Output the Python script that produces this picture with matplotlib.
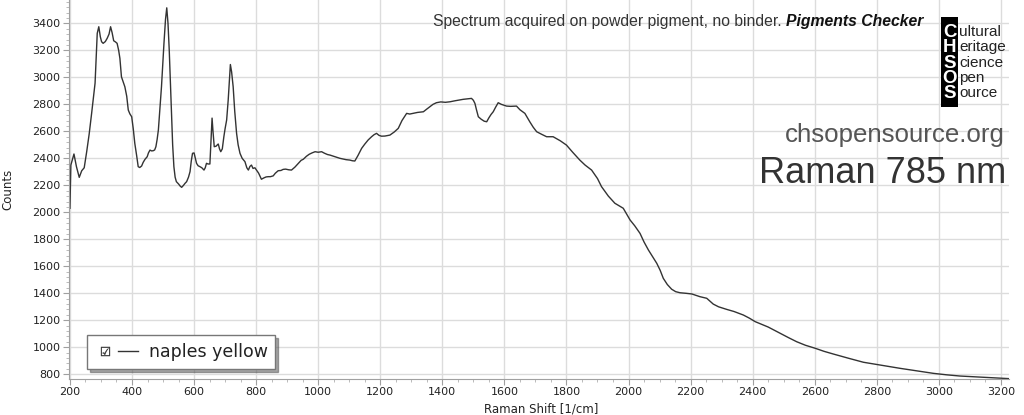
import matplotlib
matplotlib.use("Agg")
import matplotlib.pyplot as plt
from matplotlib.lines import Line2D
from matplotlib.patches import Rectangle
from matplotlib.legend_handler import HandlerTuple
from matplotlib.ticker import MultipleLocator

# %% data (Raman shift in 1/cm, counts)
shift = [200, 203, 213, 221, 230, 238, 246, 254, 262, 270, 281, 288, 293, 298, 302,
         307, 314, 320, 326, 331, 336, 341, 347, 352, 357, 361, 366, 371, 377, 383,
         388, 393, 399, 404, 409, 415, 420, 425, 431, 436, 442, 449, 453, 458, 463,
         468, 473, 477, 481, 485, 490, 495, 503, 508, 512, 516, 520, 524, 528, 531,
         535, 539, 543, 550, 555, 560, 566, 571, 576, 582, 587, 591, 595, 600, 604,
         608, 613, 619, 625, 632, 636, 640, 645, 651, 654, 658, 661, 665, 671, 675,
         678, 682, 686, 691, 696, 700, 705, 710, 714, 717, 721, 726, 731, 737, 742,
         748, 755, 764, 770, 775, 780, 785, 790, 796, 801, 808, 817, 825, 832, 839,
         846, 855, 862, 871, 880, 887, 895, 905, 914, 925, 935, 945, 952, 962, 971,
         980, 990, 1000, 1011, 1020, 1030, 1038, 1050, 1060, 1070, 1080, 1090, 1102, 1110, 1118,
         1128, 1140, 1150, 1161, 1172, 1180, 1188, 1196, 1204, 1215, 1231, 1245, 1258, 1270, 1285,
         1295, 1306, 1320, 1339, 1350, 1360, 1370, 1381, 1395, 1410, 1425, 1440, 1455, 1467, 1480,
         1494, 1500, 1505, 1510, 1516, 1525, 1535, 1543, 1550, 1557, 1564, 1572, 1580, 1590, 1600,
         1607, 1620, 1639, 1650, 1666, 1682, 1693, 1704, 1720, 1736, 1757, 1780, 1800, 1820, 1843,
         1860, 1881, 1900, 1913, 1935, 1956, 1983, 2005, 2020, 2037, 2050, 2064, 2078, 2091, 2102,
         2112, 2125, 2139, 2152, 2166, 2185, 2204, 2230, 2252, 2273, 2290, 2316, 2340, 2370, 2390,
         2408, 2450, 2488, 2515, 2542, 2570, 2601, 2630, 2660, 2710, 2757, 2820, 2875, 2930, 2982,
         3025, 3068, 3110, 3143, 3180, 3224]
counts = [2030, 2350, 2432, 2338, 2259, 2308, 2330, 2449, 2580, 2735, 2957, 3326, 3375, 3300, 3264,
          3252, 3265, 3289, 3320, 3375, 3330, 3271, 3262, 3252, 3200, 3141, 3004, 2970, 2930, 2860,
          2758, 2730, 2708, 2620, 2511, 2420, 2338, 2332, 2343, 2370, 2393, 2412, 2440, 2461, 2455,
          2456, 2462, 2486, 2540, 2610, 2770, 2930, 3252, 3430, 3515, 3400, 3202, 2950, 2708, 2500,
          2338, 2260, 2227, 2210, 2195, 2185, 2200, 2215, 2227, 2260, 2301, 2380, 2437, 2440, 2400,
          2363, 2345, 2338, 2330, 2313, 2330, 2363, 2358, 2358, 2500, 2698, 2600, 2486, 2490, 2500,
          2506, 2470, 2449, 2470, 2560, 2620, 2684, 2832, 2980, 3095, 3040, 2930, 2750, 2585, 2500,
          2437, 2400, 2375, 2330, 2313, 2340, 2350, 2325, 2330, 2313, 2290, 2245, 2255, 2262, 2264,
          2264, 2270, 2290, 2308, 2310, 2318, 2320, 2315, 2313, 2335, 2360, 2385, 2393, 2415, 2430,
          2440, 2449, 2445, 2449, 2438, 2428, 2424, 2415, 2408, 2400, 2395, 2390, 2387, 2382, 2380,
          2420, 2474, 2505, 2536, 2560, 2575, 2585, 2570, 2564, 2565, 2572, 2595, 2622, 2680, 2733,
          2728, 2733, 2740, 2745, 2765, 2782, 2800, 2812, 2818, 2815, 2819, 2826, 2832, 2837, 2840,
          2844, 2830, 2807, 2760, 2708, 2690, 2675, 2671, 2700, 2725, 2745, 2780, 2812, 2800, 2792,
          2787, 2785, 2787, 2760, 2733, 2670, 2630, 2597, 2578, 2560, 2560, 2530, 2498, 2445, 2387,
          2350, 2313, 2250, 2190, 2120, 2067, 2030, 1943, 1900, 1844, 1780, 1721, 1670, 1622, 1570,
          1511, 1465, 1430, 1412, 1404, 1400, 1395, 1375, 1363, 1320, 1300, 1281, 1265, 1239, 1215,
          1190, 1150, 1104, 1072, 1041, 1015, 993, 970, 950, 918, 889, 865, 844, 825, 807,
          796, 787, 782, 778, 773, 768]

LINE_COLOR = "#333333"
GRID_COLOR = "#dcdcdc"
TEXT_COLOR = "#333333"

plt.rcParams['font.family'] = ['DejaVu Sans']

W, H = 1024, 415
fig = plt.figure(figsize=(W / 100, H / 100), dpi=100)
ax = fig.add_axes([69 / W, 36 / H, 940 / W, 379 / H])


def px(x, y):
    # pixel position (from top-left) -> figure fraction
    return x / W, 1 - y / H


ax.plot(shift, counts, color=LINE_COLOR, linewidth=1.0)

ax.set_xlim(197, 3226)
ax.set_ylim(765, 3573)
ax.xaxis.set_major_locator(MultipleLocator(200))
ax.xaxis.set_minor_locator(MultipleLocator(50))
ax.yaxis.set_major_locator(MultipleLocator(200))
ax.yaxis.set_minor_locator(MultipleLocator(40))
ax.grid(True, which='major', color=GRID_COLOR, linewidth=1.0)
ax.set_axisbelow(True)

for s in ['top', 'right']:
    ax.spines[s].set_visible(False)
for s in ['left', 'bottom']:
    ax.spines[s].set_color('#a0a0a0')
ax.tick_params(which='major', length=4, color='#a0a0a0', labelsize=8, labelcolor='#222222', pad=2)
ax.tick_params(which='minor', length=2, color='#b0b0b0')

ax.set_ylabel('Counts', fontsize=8.5, color='#222222')
ax.yaxis.set_label_coords(-0.058, 0.5)
ax.set_xlabel('Raman Shift [1/cm]', fontsize=8.5, color='#222222')
ax.xaxis.set_label_coords(0.502, -0.062)

# legend with checkbox + line sample
check = Line2D([], [], linestyle='none', marker='$\u2611$', markersize=6.5,
               color='#333333', markeredgewidth=0.3)
sample = Line2D([], [], color=LINE_COLOR, linewidth=1.0)
leg = ax.legend([(check, sample)], ['naples yellow'],
                handler_map={tuple: HandlerTuple(ndivide=None, pad=0.2)},
                loc='lower left', bbox_to_anchor=(18 / 940, 10 / 379),
                borderaxespad=0, fontsize=12.5, handlelength=2.5, handletextpad=0.6,
                fancybox=False, shadow=True, framealpha=1, borderpad=0.45)
leg.get_frame().set_edgecolor('#777777')
leg.get_frame().set_linewidth(1.0)
for t in leg.get_texts():
    t.set_color('#222222')

# header text
sans = ['Liberation Sans', 'DejaVu Sans']
fig.text(*px(786, 26), 'Spectrum acquired on powder pigment, no binder. ',
         ha='right', va='baseline', fontsize=11.3, color=TEXT_COLOR, family=sans)
fig.text(*px(786, 26), 'Pigments Checker', ha='left', va='baseline', fontsize=11.3,
         color='#111111', family=sans, weight='bold', style='italic')

# CHSOS logo
fig.patches.append(Rectangle(px(941, 107), 17 / W, 90 / H, transform=fig.transFigure,
                             facecolor='black', edgecolor='none'))
letters = ['C', 'H', 'S', 'O', 'S']
words = ['ultural', 'eritage', 'cience', 'pen', 'ource']
for i, (l, w) in enumerate(zip(letters, words)):
    yb = 37 + i * 15.3
    fig.text(*px(949.5, yb), l, ha='center', va='baseline', fontsize=13.5, color='white',
             family=sans, weight='bold')
    fig.text(*px(959, yb - 1), w, ha='left', va='baseline', fontsize=11, color='#222222',
             family=sans)

fig.text(*px(1005, 142), 'chsopensource.org', ha='right', va='baseline', fontsize=18.6,
         color='#555555', family=sans)
fig.text(*px(1006, 183), 'Raman 785 nm', ha='right', va='baseline', fontsize=26,
         color=TEXT_COLOR, family=sans)

fig.savefig('out.png', dpi=100)
